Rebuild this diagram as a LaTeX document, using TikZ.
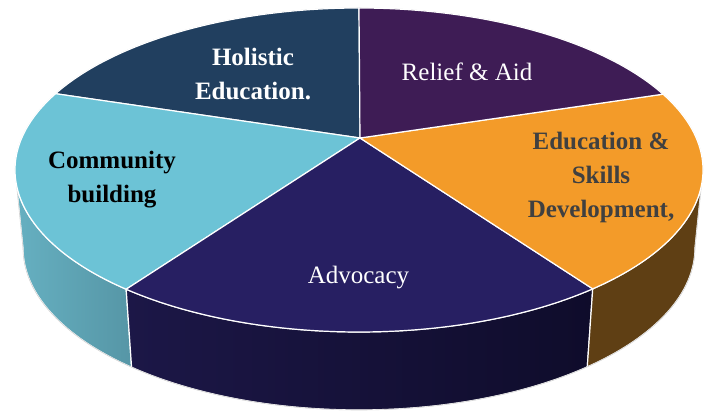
\documentclass[tikz,border=0pt]{standalone}
\usepackage{fontspec}
\setmainfont{Liberation Serif}
\usetikzlibrary{calc}
\definecolor{holistic}{HTML}{213F5F}
\definecolor{relief}{HTML}{3E1C55}
\definecolor{educ}{HTML}{F39B29}
\definecolor{advoc}{HTML}{271F62}
\definecolor{commun}{HTML}{6CC3D6}
\definecolor{communsideL}{HTML}{66B0C1}
\definecolor{communside}{HTML}{5696A6}
\definecolor{advocsideL}{HTML}{1C1747}
\definecolor{advocside}{HTML}{0F0C2B}
\definecolor{educside}{HTML}{5F3F14}
\definecolor{darktext}{HTML}{404040}
\begin{document}
\begin{tikzpicture}[x=1pt, y=1pt,
  rim/.style={draw=white, line width=1.2pt, line join=round},
  lbl/.style={align=center, font=\fontsize{25}{34}\selectfont},
  heavy/.style={align=center, font=\fontsize{25}{34}\selectfont\bfseries}]
  \useasboundingbox (0, 0) rectangle (706, 411);
  \coordinate (c) at (359, 241);
  \coordinate (cb) at (359, 163);
  \coordinate (apex) at (360, 273);
  \shadedraw[rim, left color=communsideL, right color=communside] ($(c)+(180:344 and 162)$) arc[start angle=180, end angle=227.4, x radius=344, y radius=162] -- ($(cb)+(227.4:336 and 162)$) arc[start angle=227.4, end angle=180, x radius=336, y radius=162] -- cycle;
  \shadedraw[rim, left color=advocsideL, right color=advocside] ($(c)+(227.4:344 and 162)$) arc[start angle=227.4, end angle=312.8, x radius=344, y radius=162] -- ($(cb)+(312.8:336 and 162)$) arc[start angle=312.8, end angle=227.4, x radius=336, y radius=162] -- cycle;
  \filldraw[rim, fill=educside] ($(c)+(312.8:344 and 162)$) arc[start angle=312.8, end angle=360, x radius=344, y radius=162] -- ($(cb)+(0:336 and 162)$) arc[start angle=360, end angle=312.8, x radius=336, y radius=162] -- cycle;
  \draw[gray!35, line width=0.6pt] ($(c)+(180:344 and 162)$) -- ($(cb)+(180:336 and 162)$) arc[start angle=180, end angle=360, x radius=336, y radius=162] -- ($(c)+(0:344 and 162)$) arc[start angle=0, end angle=180, x radius=344, y radius=162];
  \filldraw[rim, fill=holistic] (apex) -- ($(c)+(90:344 and 162)$) arc[start angle=90, end angle=151.9, x radius=344, y radius=162] -- cycle;
  \filldraw[rim, fill=commun] (apex) -- ($(c)+(151.9:344 and 162)$) arc[start angle=151.9, end angle=227.4, x radius=344, y radius=162] -- cycle;
  \filldraw[rim, fill=advoc] (apex) -- ($(c)+(227.4:344 and 162)$) arc[start angle=227.4, end angle=312.8, x radius=344, y radius=162] -- cycle;
  \filldraw[rim, fill=educ] (apex) -- ($(c)+(312.8:344 and 162)$) arc[start angle=312.8, end angle=387.9, x radius=344, y radius=162] -- cycle;
  \filldraw[rim, fill=relief] (apex) -- ($(c)+(27.9:344 and 162)$) arc[start angle=27.9, end angle=90, x radius=344, y radius=162] -- cycle;
  \node[heavy, text=white] (holisticlbl) at (253, 337) {Holistic\\Education.};
  \node[lbl, text=white] (relieflbl) at (467, 339.5) {Relief \& Aid};
  \node[heavy, text=darktext] (educlbl) at (601, 234) {Education \&\\Skills\\Development,};
  \node[heavy, text=black] (communlbl) at (112, 231.5) {Community\\building};
  \node[lbl, text=white] (advoclbl) at (358.5, 133) {Advocacy};
\end{tikzpicture}
\end{document}
